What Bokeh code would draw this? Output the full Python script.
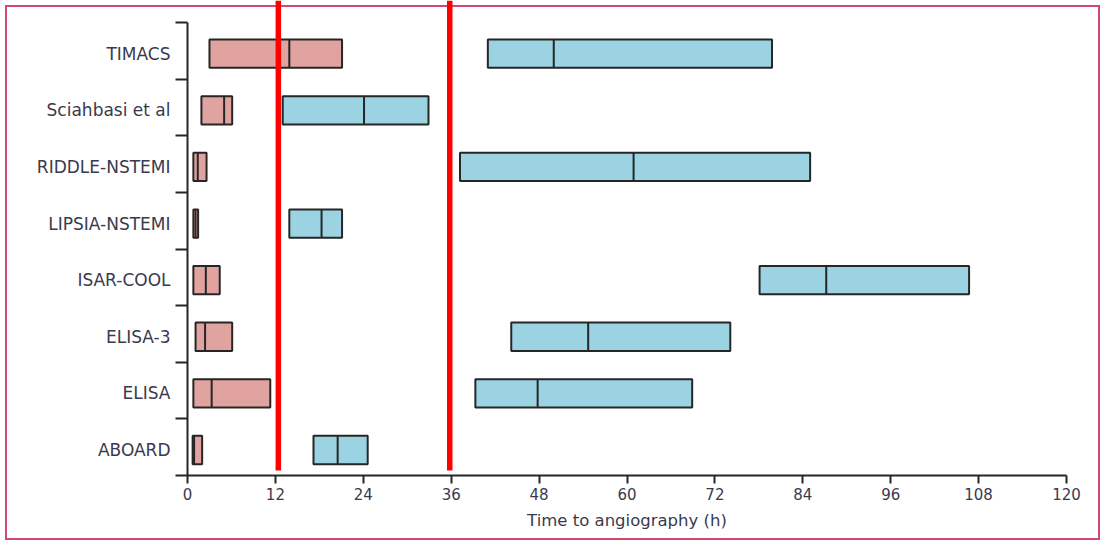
from bokeh.plotting import figure
from bokeh.models import Range1d, FixedTicker, ColumnDataSource
from bokeh.embed import file_html
from bokeh.resources import INLINE

trials = ["TIMACS", "Sciahbasi et al", "RIDDLE-NSTEMI", "LIPSIA-NSTEMI",
          "ISAR-COOL", "ELISA-3", "ELISA", "ABOARD"]
early_low = [3.0, 1.9, 0.8, 0.8, 0.8, 1.1, 0.8, 0.7]
early_med = [13.9, 5.0, 1.4, 1.1, 2.5, 2.4, 3.3, 0.9]
early_high = [21.1, 6.1, 2.6, 1.45, 4.4, 6.1, 11.3, 2.0]
delayed_low = [41.0, 13.0, 37.2, 13.9, 78.1, 44.2, 39.3, 17.2]
delayed_med = [50.0, 24.1, 60.9, 18.3, 87.2, 54.7, 47.8, 20.5]
delayed_high = [79.8, 32.9, 85.0, 21.1, 106.7, 74.1, 68.9, 24.6]
x_ticks = [0, 12, 24, 36, 48, 60, 72, 84, 96, 108, 120]
cutoffs = [12.4, 35.8]

n = len(trials)
ypos = [n - i - 0.55 for i in range(n)]
box_h = 0.5
y_top = n + 0.389

FONT = "DejaVu Sans"
TXT = "#3a3a4e"
INK = "#262626"

p = figure(width=1105, height=545, output_backend="svg", toolbar_location=None,
           x_range=Range1d(0, 120), y_range=Range1d(0, y_top),
           min_border_left=187, min_border_right=39, min_border_top=0,
           min_border_bottom=70)
p.grid.visible = False
p.outline_line_color = None
p.background_fill_color = None
p.border_fill_color = None
shadow = "inset 0 0 0 5px #ffffff, inset 0 0 0 7px #d24a72"
p.styles = {"box-shadow": shadow, "boxShadow": shadow,
            "background-color": "#ffffff", "backgroundColor": "#ffffff"}


def make_src(lo, med, hi):
    return ColumnDataSource(dict(
        y=ypos, lo=lo, med=med, hi=hi,
        y0=[y - box_h / 2 for y in ypos], y1=[y + box_h / 2 for y in ypos]))


src_e = make_src(early_low, early_med, early_high)
src_d = make_src(delayed_low, delayed_med, delayed_high)

for src, col in ((src_e, "#e0a3a0"), (src_d, "#9bd3e3")):
    p.hbar(y="y", left="lo", right="hi", height=box_h, source=src,
           fill_color=col, line_color=INK, line_width=2)
    p.segment(x0="med", x1="med", y0="y0", y1="y1", source=src,
              line_color=INK, line_width=2)

# red cut-off lines
p.segment(x0=cutoffs, x1=cutoffs, y0=[0.09] * len(cutoffs),
          y1=[y_top] * len(cutoffs), line_color="#ff0000", line_width=5.5)

# y axis
ya = p.yaxis[0]
ya.bounds = (0, n)
ya.ticker = FixedTicker(ticks=ypos, minor_ticks=list(range(n + 1)))
ya.major_label_overrides = {y: t for y, t in zip(ypos, trials)}
ya.major_tick_out = 0
ya.major_tick_in = 0
ya.minor_tick_out = 12
ya.minor_tick_in = 0
ya.minor_tick_line_color = INK
ya.minor_tick_line_width = 2
ya.axis_line_color = INK
ya.axis_line_width = 2
ya.major_label_standoff = 5
ya.major_label_text_font = FONT
ya.major_label_text_font_size = "17px"
ya.major_label_text_color = TXT

# x axis
xa = p.xaxis[0]
xa.ticker = FixedTicker(ticks=x_ticks, minor_ticks=[])
xa.major_tick_out = 8
xa.major_tick_in = 0
xa.major_tick_line_color = INK
xa.major_tick_line_width = 2
xa.axis_line_color = INK
xa.axis_line_width = 2
xa.major_label_standoff = 4
xa.major_label_text_font = FONT
xa.major_label_text_font_size = "15px"
xa.major_label_text_color = TXT
xa.axis_label = "Time to angiography (h)"
xa.axis_label_text_font = FONT
xa.axis_label_text_font_style = "normal"
xa.axis_label_text_font_size = "16.5px"
xa.axis_label_text_color = TXT
xa.axis_label_standoff = 8

open("out.html", "w").write(file_html(p, INLINE))
